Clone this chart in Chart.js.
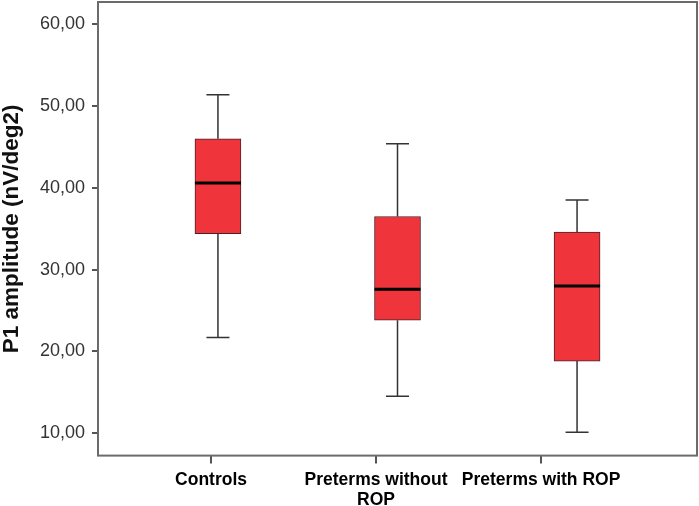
<!DOCTYPE html>
<html>
<head>
<meta charset="utf-8">
<script src="https://cdn.jsdelivr.net/npm/chart.js@4.4.1/dist/chart.umd.min.js"></script>
<style>
  html, body { margin: 0; padding: 0; background: #fff; }
  #wrap { width: 699px; height: 506px; }
</style>
</head>
<body>
<div id="wrap"><canvas id="boxplot" width="699" height="506"></canvas></div>
<script>
// groups and box plot statistics
const groups   = ['Controls', ['Preterms without', 'ROP'], 'Preterms with ROP'];
const groupPos = [1, 2, 3];
const whiskLow = [21.7, 14.5, 10.1];
const q1       = [34.4, 23.8, 18.8];
const median   = [40.6, 27.6, 28.0];
const q3       = [46.0, 36.5, 34.6];
const whiskHigh = [51.4, 45.4, 38.5];
const yTicks   = [10, 20, 30, 40, 50, 60];

const boxFill = '#f0343c';

// whiskers, caps and median line, drawn through the chart scales
const boxExtras = {
  id: 'boxExtras',
  beforeDatasetsDraw(chart) {
    const { ctx } = chart;
    const xs = chart.scales.x, ys = chart.scales.y;
    const half = 11.5;
    ctx.save();
    ctx.strokeStyle = '#333';
    ctx.lineWidth = 1.5;
    groupPos.forEach((g, i) => {
      const x = xs.getPixelForValue(g);
      const yl = ys.getPixelForValue(whiskLow[i]);
      const yh = ys.getPixelForValue(whiskHigh[i]);
      const y1 = ys.getPixelForValue(q1[i]);
      const y3 = ys.getPixelForValue(q3[i]);
      ctx.beginPath();
      ctx.moveTo(x, yl); ctx.lineTo(x, y1);
      ctx.moveTo(x, y3); ctx.lineTo(x, yh);
      ctx.moveTo(x - half, yl); ctx.lineTo(x + half, yl);
      ctx.moveTo(x - half, yh); ctx.lineTo(x + half, yh);
      ctx.stroke();
    });
    ctx.restore();
  },
  afterDatasetsDraw(chart) {
    const { ctx } = chart;
    const xs = chart.scales.x, ys = chart.scales.y;
    const meta = chart.getDatasetMeta(0);
    ctx.save();
    ctx.strokeStyle = '#000';
    ctx.lineWidth = 3;
    groupPos.forEach((g, i) => {
      const bar = meta.data[i];
      const w = bar.width / 2;
      const x = xs.getPixelForValue(g);
      const y = ys.getPixelForValue(median[i]);
      ctx.beginPath();
      ctx.moveTo(x - w, y); ctx.lineTo(x + w, y);
      ctx.stroke();
    });
    ctx.restore();
  },
  afterDraw(chart) {
    const { ctx, chartArea: a } = chart;
    ctx.save();
    ctx.strokeStyle = '#6b6b6b';
    ctx.lineWidth = 2;
    ctx.strokeRect(a.left, a.top, a.right - a.left, a.bottom - a.top);
    ctx.restore();
  }
};

new Chart(document.getElementById('boxplot').getContext('2d'), {
  type: 'bar',
  data: {
    datasets: [{
      data: groupPos.map((g, i) => ({ x: g, y: [q1[i], q3[i]] })),
      backgroundColor: boxFill,
      borderColor: '#4a2226',
      borderWidth: 1,
      borderSkipped: false,
      barThickness: 46,
      xAxisID: 'x',
      yAxisID: 'y'
    }]
  },
  options: {
    responsive: false,
    animation: false,
    layout: { padding: { top: 2, right: 2, left: 0, bottom: 0 } },
    plugins: {
      legend: { display: false },
      tooltip: { enabled: false }
    },
    scales: {
      x: {
        type: 'linear',
        display: false,
        offset: false,
        min: 0.332,
        max: 3.668
      },
      xLabels: {
        type: 'linear',
        position: 'bottom',
        offset: false,
        min: 0.315,
        max: 3.945,
        afterBuildTicks: s => { s.ticks = groupPos.map(v => ({ value: v })); },
        afterFit: s => { s.height = 50.4; s.paddingLeft = 0; s.paddingRight = 0; },
        border: { display: false },
        grid: {
          offset: false, drawOnChartArea: false, drawTicks: true, tickLength: 8,
          color: '#555', lineWidth: 2, tickColor: '#555', tickWidth: 2
        },
        ticks: {
          autoSkip: false,
          maxRotation: 0,
          padding: 6,
          color: '#000',
          font: { family: 'Liberation Sans, Arial, sans-serif', size: 17.5, weight: 'bold', lineHeight: 1.16 },
          callback: v => groups[groupPos.indexOf(v)]
        }
      },
      y: {
        type: 'linear',
        min: 7.23,
        max: 62.75,
        afterBuildTicks: s => { s.ticks = yTicks.map(v => ({ value: v })); },
        afterFit: s => { s.width = 98; s.paddingTop = 0; s.paddingBottom = 0; },
        border: { display: false },
        grid: {
          drawOnChartArea: false, drawTicks: true, tickLength: 6,
          color: '#555', lineWidth: 2, tickColor: '#555', tickWidth: 2
        },
        ticks: {
          padding: 7,
          color: '#333',
          font: { family: 'Liberation Sans, Arial, sans-serif', size: 18 },
          callback: v => v.toFixed(2).replace('.', ',')
        },
        title: {
          display: true,
          text: 'P1 amplitude (nV/deg2)',
          color: '#111',
          padding: 0,
          font: { family: 'Liberation Sans, Arial, sans-serif', size: 22.5, weight: 'bold', lineHeight: 1.05 }
        }
      }
    }
  },
  plugins: [boxExtras]
});
</script>
</body>
</html>
